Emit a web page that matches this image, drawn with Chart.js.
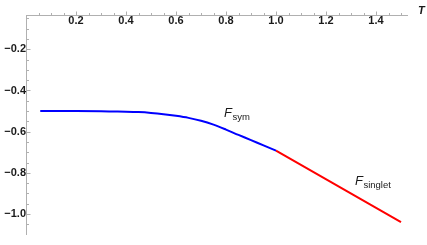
<!DOCTYPE html>
<html><head><meta charset="utf-8">
<script src="https://cdn.jsdelivr.net/npm/chart.js@4/dist/chart.umd.min.js"></script>
<style>html,body{margin:0;padding:0;background:#fff}#wrap{width:427px;height:245px}</style>
</head><body><div id="wrap"><canvas id="c" width="427" height="245"></canvas></div>
<script>
// Data
const symT = [0.057, 0.1, 0.2, 0.3, 0.35, 0.4, 0.45, 0.5, 0.55, 0.6, 0.65, 0.7, 0.75, 0.8, 0.85, 0.9, 0.95, 1.0];
const symF = [-0.500, -0.500, -0.500, -0.501, -0.502, -0.503, -0.505, -0.509, -0.515, -0.523, -0.533, -0.547, -0.566, -0.590, -0.616, -0.641, -0.667, -0.692];
const singletT = [1.0, 1.25, 1.5];
const singletF = [-0.692, -0.866, -1.040];
const xTicks = [0.2, 0.4, 0.6, 0.8, 1.0, 1.2, 1.4];
const yTicks = [-0.2, -0.4, -0.6, -0.8, -1.0];
const xMinorStep = 0.05, yMinorStep = 0.05;
const xLabel = 'T';
const symLabel = ['F', 'sym'];
const singletLabel = ['F', 'singlet'];

const AXIS = '#b0b0b0';
const TXT = '#1a1a1a';
const FONT = 'Liberation Sans, Arial, sans-serif';

const fmt = v => { const s = Math.abs(v).toFixed(1); return v < 0 ? '\u2212' + s : s; };

const decor = {
  id: 'decor',
  afterDraw(chart) {
    const ctx = chart.ctx, xs = chart.scales.x, ys = chart.scales.y;
    const x0 = xs.getPixelForValue(0);
    const yAxisPix = Math.round(ys.getPixelForValue(-0.033)) + 0.5;
    const xAxisPix = Math.round(x0) + 0.5;
    ctx.save();
    ctx.strokeStyle = AXIS; ctx.lineWidth = 1;
    ctx.beginPath();
    for (let i = 1; i * xMinorStep <= xs.max + 1e-9; i++) {
      const v = i * xMinorStep;
      const major = Math.abs(v / 0.2 - Math.round(v / 0.2)) < 1e-6;
      const px = Math.round(xs.getPixelForValue(v)) + 0.5;
      ctx.moveTo(px, yAxisPix); ctx.lineTo(px, yAxisPix - (major ? 4 : 2.5));
    }
    for (let i = 1; -i * yMinorStep >= ys.min - 1e-9; i++) {
      const v = -i * yMinorStep;
      const major = Math.abs(v / 0.2 - Math.round(v / 0.2)) < 1e-6;
      const py = Math.round(ys.getPixelForValue(v)) + 0.5;
      ctx.moveTo(xAxisPix, py); ctx.lineTo(xAxisPix + (major ? 4 : 2.5), py);
    }
    ctx.stroke();
    // axis label T
    ctx.fillStyle = TXT;
    ctx.font = 'italic bold 11px ' + FONT;
    ctx.textBaseline = 'middle'; ctx.textAlign = 'left';
    ctx.fillText(xLabel, chart.chartArea.right + 11, yAxisPix - 5);
    // curve labels
    const lab = (parts, tv, fv) => {
      const px = xs.getPixelForValue(tv), py = ys.getPixelForValue(fv);
      ctx.textBaseline = 'alphabetic'; ctx.textAlign = 'left';
      ctx.font = 'italic 13px ' + FONT;
      ctx.fillText(parts[0], px, py);
      const w = ctx.measureText(parts[0]).width;
      ctx.font = '9.5px ' + FONT;
      ctx.fillText(parts[1], px + w + 0.5, py + 3);
    };
    lab(symLabel, 0.792, -0.529);
    lab(singletLabel, 1.316, -0.861);
    ctx.restore();
  }
};

const toPts = (xs, ys) => xs.map((x, i) => ({x, y: ys[i]}));

new Chart(document.getElementById('c'), {
  type: 'line',
  data: {
    datasets: [
      { data: toPts(symT, symF), borderColor: '#0000ff', borderWidth: 2, pointRadius: 0, tension: 0.4, cubicInterpolationMode: 'monotone', fill: false },
      { data: toPts(singletT, singletF), borderColor: '#ff0000', borderWidth: 2, pointRadius: 0, tension: 0, fill: false }
    ]
  },
  options: {
    responsive: false, animation: false, devicePixelRatio: 1,
    layout: { padding: { left: 26, top: 15, right: 20, bottom: 2 } },
    plugins: { legend: { display: false }, tooltip: { enabled: false } },
    scales: {
      x: {
        type: 'linear', min: 0, max: 1.524, position: { y: -0.033 },
        grid: { display: false, drawTicks: false },
        border: { display: true, color: AXIS, width: 1 },
        afterBuildTicks: s => { s.ticks = xTicks.map(v => ({ value: v })); },
        ticks: { callback: v => fmt(v), color: TXT, font: { family: FONT, size: 11, weight: 'bold' }, padding: -1, maxRotation: 0, autoSkip: false }
      },
      y: {
        type: 'linear', min: -1.0995, max: -0.033, position: { x: 0 },
        grid: { display: false, drawTicks: false },
        border: { display: true, color: AXIS, width: 1 },
        afterBuildTicks: s => { s.ticks = yTicks.map(v => ({ value: v })); },
        ticks: { callback: v => fmt(v), color: TXT, font: { family: FONT, size: 11, weight: 'bold' }, padding: 4, autoSkip: false }
      }
    }
  },
  plugins: [decor]
});
</script></body></html>
